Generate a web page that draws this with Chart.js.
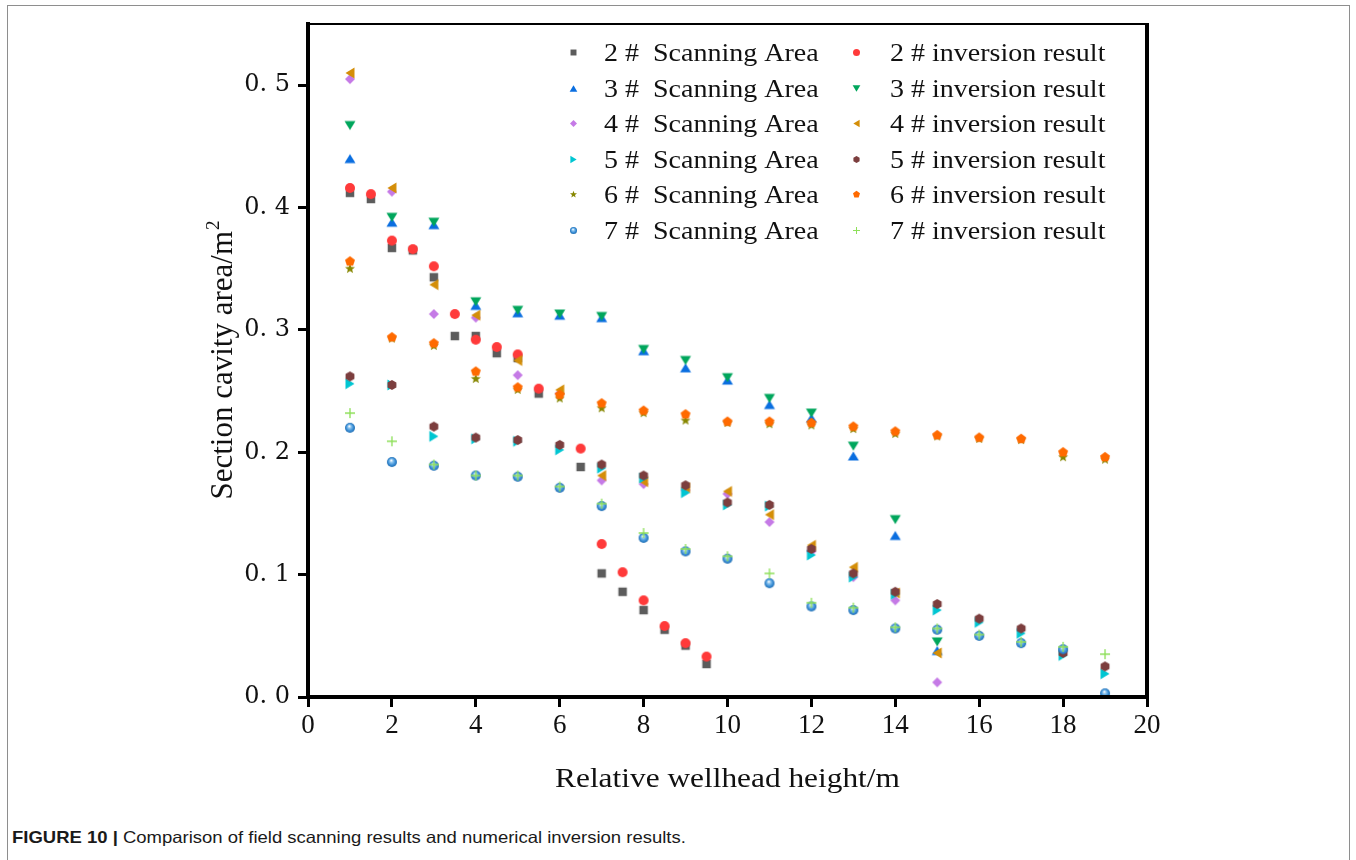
<!DOCTYPE html>
<html>
<head>
<meta charset="utf-8">
<script src="https://cdn.jsdelivr.net/npm/chart.js@4.4.1/dist/chart.umd.min.js"></script>
<style>
    html, body { margin: 0; padding: 0; background: #fff; }
    body { width: 1356px; height: 860px; position: relative; overflow: hidden; }
    #frame { position: absolute; left: 7px; top: 5px; width: 1341px; height: 900px; border: 1px solid #8e8e8e; }
    #chartBox { position: absolute; left: 0; top: 0; width: 1356px; height: 800px; }
    #caption { position: absolute; left: 12px; top: 828px; font-family: 'Liberation Sans', Arial, sans-serif; font-size: 16.5px; color: #1a1a1a; white-space: nowrap; transform: scaleX(1.12); transform-origin: left top; }
</style>
</head>
<body>
<div id="frame"></div>
<div id="chartBox"><canvas id="cavityChart" width="1356" height="800"></canvas></div>
<div id="caption"><b>FIGURE 10 |</b> Comparison of field scanning results and numerical inversion results.</div>
<script>
// ============================================
// Section cavity area vs relative wellhead height
// ============================================

// --- data ---
const heights2 = [1, 1.5, 2, 2.5, 3, 3.5, 4, 4.5, 5, 5.5, 6.5, 7, 7.5, 8, 8.5, 9, 9.5];
const heights15 = [1, 2, 3, 4, 5, 6, 7, 8, 9, 10, 11, 12, 13, 14, 15];
const heights19 = [1, 2, 3, 4, 5, 6, 7, 8, 9, 10, 11, 12, 13, 14, 15, 16, 17, 18, 19];

const scan2 = [0.412, 0.407, 0.367, 0.365, 0.343, 0.295, 0.295, 0.281, 0.277, 0.248, 0.188, 0.101, 0.086, 0.071, 0.055, 0.042, 0.027];
const inv2  = [0.416, 0.411, 0.373, 0.366, 0.352, 0.313, 0.292, 0.286, 0.280, 0.252, 0.203, 0.125, 0.102, 0.079, 0.058, 0.044, 0.033];

const scan3 = [0.440, 0.388, 0.386, 0.320, 0.314, 0.312, 0.310, 0.283, 0.269, 0.259, 0.239, 0.228, 0.197, 0.132, 0.038];
const inv3  = [0.467, 0.392, 0.388, 0.323, 0.316, 0.313, 0.311, 0.284, 0.275, 0.261, 0.244, 0.232, 0.205, 0.145, 0.045];

const scan4 = [0.505, 0.413, 0.313, 0.310, 0.263, 0.248, 0.177, 0.174, 0.169, 0.166, 0.143, 0.119, 0.098, 0.079, 0.012];
const inv4  = [0.510, 0.416, 0.337, 0.312, 0.275, 0.251, 0.181, 0.176, 0.171, 0.168, 0.149, 0.124, 0.106, 0.085, 0.036];

const scan5 = [0.256, 0.255, 0.213, 0.211, 0.209, 0.202, 0.187, 0.179, 0.167, 0.157, 0.156, 0.116, 0.098, 0.084, 0.071, 0.061, 0.052, 0.034, 0.019];
const inv5  = [0.262, 0.255, 0.221, 0.212, 0.210, 0.206, 0.190, 0.181, 0.173, 0.159, 0.157, 0.121, 0.101, 0.086, 0.076, 0.064, 0.056, 0.036, 0.025];

const scan6 = [0.350, 0.293, 0.287, 0.260, 0.251, 0.244, 0.236, 0.232, 0.226, 0.224, 0.223, 0.222, 0.219, 0.215, 0.213, 0.211, 0.210, 0.196, 0.194];
const inv6  = [0.356, 0.294, 0.289, 0.266, 0.253, 0.247, 0.240, 0.234, 0.231, 0.225, 0.225, 0.224, 0.221, 0.217, 0.214, 0.212, 0.211, 0.200, 0.196];

const scan7 = [0.220, 0.192, 0.189, 0.181, 0.180, 0.171, 0.156, 0.130, 0.119, 0.113, 0.093, 0.074, 0.071, 0.056, 0.055, 0.050, 0.044, 0.039, 0.003];
const inv7  = [0.232, 0.209, 0.190, 0.181, 0.181, 0.172, 0.158, 0.134, 0.121, 0.115, 0.101, 0.077, 0.073, 0.057, 0.056, 0.051, 0.045, 0.041, 0.035];

const scanLabels = ['2 #  Scanning Area', '3 #  Scanning Area', '4 #  Scanning Area', '5 #  Scanning Area', '6 #  Scanning Area', '7 #  Scanning Area'];
const invLabels = ['2 # inversion result', '3 # inversion result', '4 # inversion result', '5 # inversion result', '6 # inversion result', '7 # inversion result'];

const xTicks = [0, 2, 4, 6, 8, 10, 12, 14, 16, 18, 20];
const yTicks = [0, 0.1, 0.2, 0.3, 0.4, 0.5];

// --- marker styles (shape, colour) ---
const scanStyles = [
    ['square', '#5c5c5c'], ['triUp', '#0a6ee0'], ['diamond', '#c57ae6'],
    ['triRight', '#00c6d2'], ['star', '#878700'], ['sphere', '#3a8ed6']
];
const invStyles = [
    ['circle', '#ff3a3a'], ['triDown', '#00a65c'], ['triLeft', '#d48e08'],
    ['hexagon', '#7c3e3e'], ['pentagon', '#ff6a00'], ['plus', '#8ee05a']
];

// Build a small canvas marker
function polygon(ctx, n, r, start) {
    ctx.beginPath();
    for (let i = 0; i < n; i++) {
        const a = start + i * 2 * Math.PI / n;
        ctx.lineTo(r * Math.cos(a), r * Math.sin(a));
    }
    ctx.closePath();
    ctx.fill();
}

function pathFill(ctx, pts) {
    ctx.beginPath();
    pts.forEach(p => ctx.lineTo(p[0], p[1]));
    ctx.closePath();
    ctx.fill();
}

function makeMarker(shape, color, size) {
    const c = document.createElement('canvas');
    c.width = c.height = Math.ceil(size) + 4;
    const ctx = c.getContext('2d');
    const r = size / 2;
    ctx.translate(c.width / 2, c.height / 2);
    ctx.fillStyle = color;
    ctx.strokeStyle = color;
    const w = size * 1.1, h = size * 0.9;

    switch (shape) {
        case 'square':
            ctx.fillRect(-r * 0.85, -r * 0.85, r * 1.7, r * 1.7);
            break;
        case 'circle':
            ctx.beginPath(); ctx.arc(0, 0, r, 0, Math.PI * 2); ctx.fill();
            break;
        case 'triUp':
            pathFill(ctx, [[0, -h / 2], [w / 2, h / 2], [-w / 2, h / 2]]);
            break;
        case 'triDown':
            pathFill(ctx, [[0, h / 2], [w / 2, -h / 2], [-w / 2, -h / 2]]);
            break;
        case 'triLeft':
            pathFill(ctx, [[-h / 2, 0], [h / 2, -w / 2], [h / 2, w / 2]]);
            break;
        case 'triRight':
            pathFill(ctx, [[h / 2, 0], [-h / 2, -w / 2], [-h / 2, w / 2]]);
            break;
        case 'diamond':
            pathFill(ctx, [[0, -r], [r, 0], [0, r], [-r, 0]]);
            break;
        case 'pentagon':
            polygon(ctx, 5, r * 1.05, -Math.PI / 2);
            break;
        case 'hexagon':
            polygon(ctx, 6, r * 1.02, -Math.PI / 2);
            break;
        case 'star': {
            const pts = [];
            for (let i = 0; i < 10; i++) {
                const rr = i % 2 === 0 ? r * 1.05 : r * 0.45;
                const a = -Math.PI / 2 + i * Math.PI / 5;
                pts.push([rr * Math.cos(a), rr * Math.sin(a)]);
            }
            pathFill(ctx, pts);
            break;
        }
        case 'sphere': {
            const g = ctx.createRadialGradient(-r * 0.15, -r * 0.35, r * 0.05, 0, 0, r);
            g.addColorStop(0, '#ffffff');
            g.addColorStop(0.3, '#8cc4ee');
            g.addColorStop(0.7, color);
            g.addColorStop(1, '#1f6cb0');
            ctx.fillStyle = g;
            ctx.beginPath(); ctx.arc(0, 0, r, 0, Math.PI * 2); ctx.fill();
            break;
        }
        case 'plus':
            ctx.lineWidth = Math.max(1, size / 7.5);
            ctx.beginPath();
            ctx.moveTo(-r, 0); ctx.lineTo(r, 0);
            ctx.moveTo(0, -r); ctx.lineTo(0, r);
            ctx.stroke();
            break;
    }
    return c;
}

const seriesX = [heights2, heights15, heights15, heights19, heights19, heights19];
const scanY = [scan2, scan3, scan4, scan5, scan6, scan7];
const invY = [inv2, inv3, inv4, inv5, inv6, inv7];

const MARK = 10;   // plot marker size
const LEG_MARK = 7; // legend marker size

function toPoints(xs, ys) {
    return xs.map((x, i) => ({ x: x, y: ys[i] }));
}

// Interleave: scanning then inversion for each well, later ones drawn on top
const datasets = [];
const legendRows = [];
for (let k = 0; k < 6; k++) {
    const sMark = makeMarker(scanStyles[k][0], scanStyles[k][1], MARK);
    const iMark = makeMarker(invStyles[k][0], invStyles[k][1], MARK);
    datasets.push({ label: scanLabels[k], data: toPoints(seriesX[k], scanY[k]), pointStyle: sMark });
    datasets.push({ label: invLabels[k], data: toPoints(seriesX[k], invY[k]), pointStyle: iMark });
    legendRows.push({
        scan: makeMarker(scanStyles[k][0], scanStyles[k][1], LEG_MARK),
        inv: makeMarker(invStyles[k][0], invStyles[k][1], LEG_MARK),
        scanText: scanLabels[k],
        invText: invLabels[k]
    });
}
datasets.forEach((d, i) => {
    d.order = -i;
    d.showLine = false;
    d.pointRadius = 5;
    d.pointHoverRadius = 5;
    d.clip = false;
});

// Frame, axis titles and in-plot legend
const figureDecor = {
    id: 'figureDecor',
    afterDraw(chart) {
        const { ctx, chartArea: a } = chart;
        ctx.save();
        ctx.strokeStyle = '#000';
        ctx.lineWidth = 2;
        ctx.beginPath(); ctx.moveTo(a.left - 2, a.top); ctx.lineTo(a.right + 2, a.top); ctx.stroke();
        ctx.lineWidth = 4;
        ctx.beginPath(); ctx.moveTo(a.right, a.top - 1); ctx.lineTo(a.right, a.bottom + 2); ctx.stroke();

        ctx.fillStyle = '#111';
        ctx.textBaseline = 'alphabetic';

        // x title
        ctx.save();
        ctx.font = '28px "Liberation Serif"';
        ctx.textAlign = 'center';
        ctx.translate((a.left + a.right) / 2, 787);
        ctx.scale(1.12, 1);
        ctx.fillText('Relative wellhead height/m', 0, 0);
        ctx.restore();

        // y title with superscript
        ctx.save();
        ctx.translate(232, (a.top + a.bottom) / 2);
        ctx.rotate(-Math.PI / 2);
        ctx.textAlign = 'left';
        ctx.font = '31px "Liberation Serif"';
        const main = 'Section cavity area/m';
        const mw = ctx.measureText(main).width;
        ctx.font = '19px "Liberation Serif"';
        const sw = ctx.measureText('2').width;
        const x0 = -(mw + sw) / 2;
        ctx.font = '31px "Liberation Serif"';
        ctx.fillText(main, x0, 0);
        ctx.font = '19px "Liberation Serif"';
        ctx.fillText('2', x0 + mw + 1, -13);
        ctx.restore();

        // legend
        ctx.font = '25px "Liberation Serif"';
        ctx.textAlign = 'left';
        legendRows.forEach((row, i) => {
            const y = 52.5 + 35.5 * i;
            ctx.drawImage(row.scan, Math.round(573 - row.scan.width / 2), Math.round(y - row.scan.height / 2));
            ctx.drawImage(row.inv, Math.round(856 - row.inv.width / 2), Math.round(y - row.inv.height / 2));
            ctx.save(); ctx.translate(604, y + 8.5); ctx.scale(1.12, 1); ctx.fillText(row.scanText, 0, 0); ctx.restore();
            ctx.save(); ctx.translate(890, y + 8.5); ctx.scale(1.12, 1); ctx.fillText(row.invText, 0, 0); ctx.restore();
        });
        ctx.restore();
    }
};

const axisGrid = {
    display: true,
    drawOnChartArea: false,
    drawTicks: true,
    tickLength: 10,
    tickWidth: 3,
    tickColor: '#000'
};
const axisBorder = { display: true, color: '#000', width: 4, z: 1 };

new Chart(document.getElementById('cavityChart'), {
    type: 'scatter',
    data: { datasets: datasets },
    options: {
        responsive: false,
        animation: false,
        events: [],
        layout: { padding: { left: 0, top: 24, right: 209, bottom: 0 } },
        plugins: {
            legend: { display: false },
            tooltip: { enabled: false }
        },
        scales: {
            x: {
                type: 'linear',
                min: xTicks[0],
                max: xTicks[xTicks.length - 1],
                afterBuildTicks: s => { s.ticks = xTicks.map(v => ({ value: v })); },
                ticks: {
                    color: '#111',
                    padding: 3,
                    maxRotation: 0,
                    font: { family: 'Liberation Serif', size: 27 }
                },
                grid: axisGrid,
                border: axisBorder,
                afterFit: s => { s.height = 103; }
            },
            y: {
                type: 'linear',
                min: 0,
                max: 0.55,
                afterBuildTicks: s => { s.ticks = yTicks.map(v => ({ value: v })); },
                ticks: {
                    color: '#111',
                    padding: 8,
                    callback: v => v.toFixed(1).replace('.', '. '),
                    font: { family: 'DejaVu Serif', size: 24 }
                },
                grid: axisGrid,
                border: axisBorder,
                afterFit: s => { s.width = 308; }
            }
        }
    },
    plugins: [figureDecor]
});
</script>
</body>
</html>
